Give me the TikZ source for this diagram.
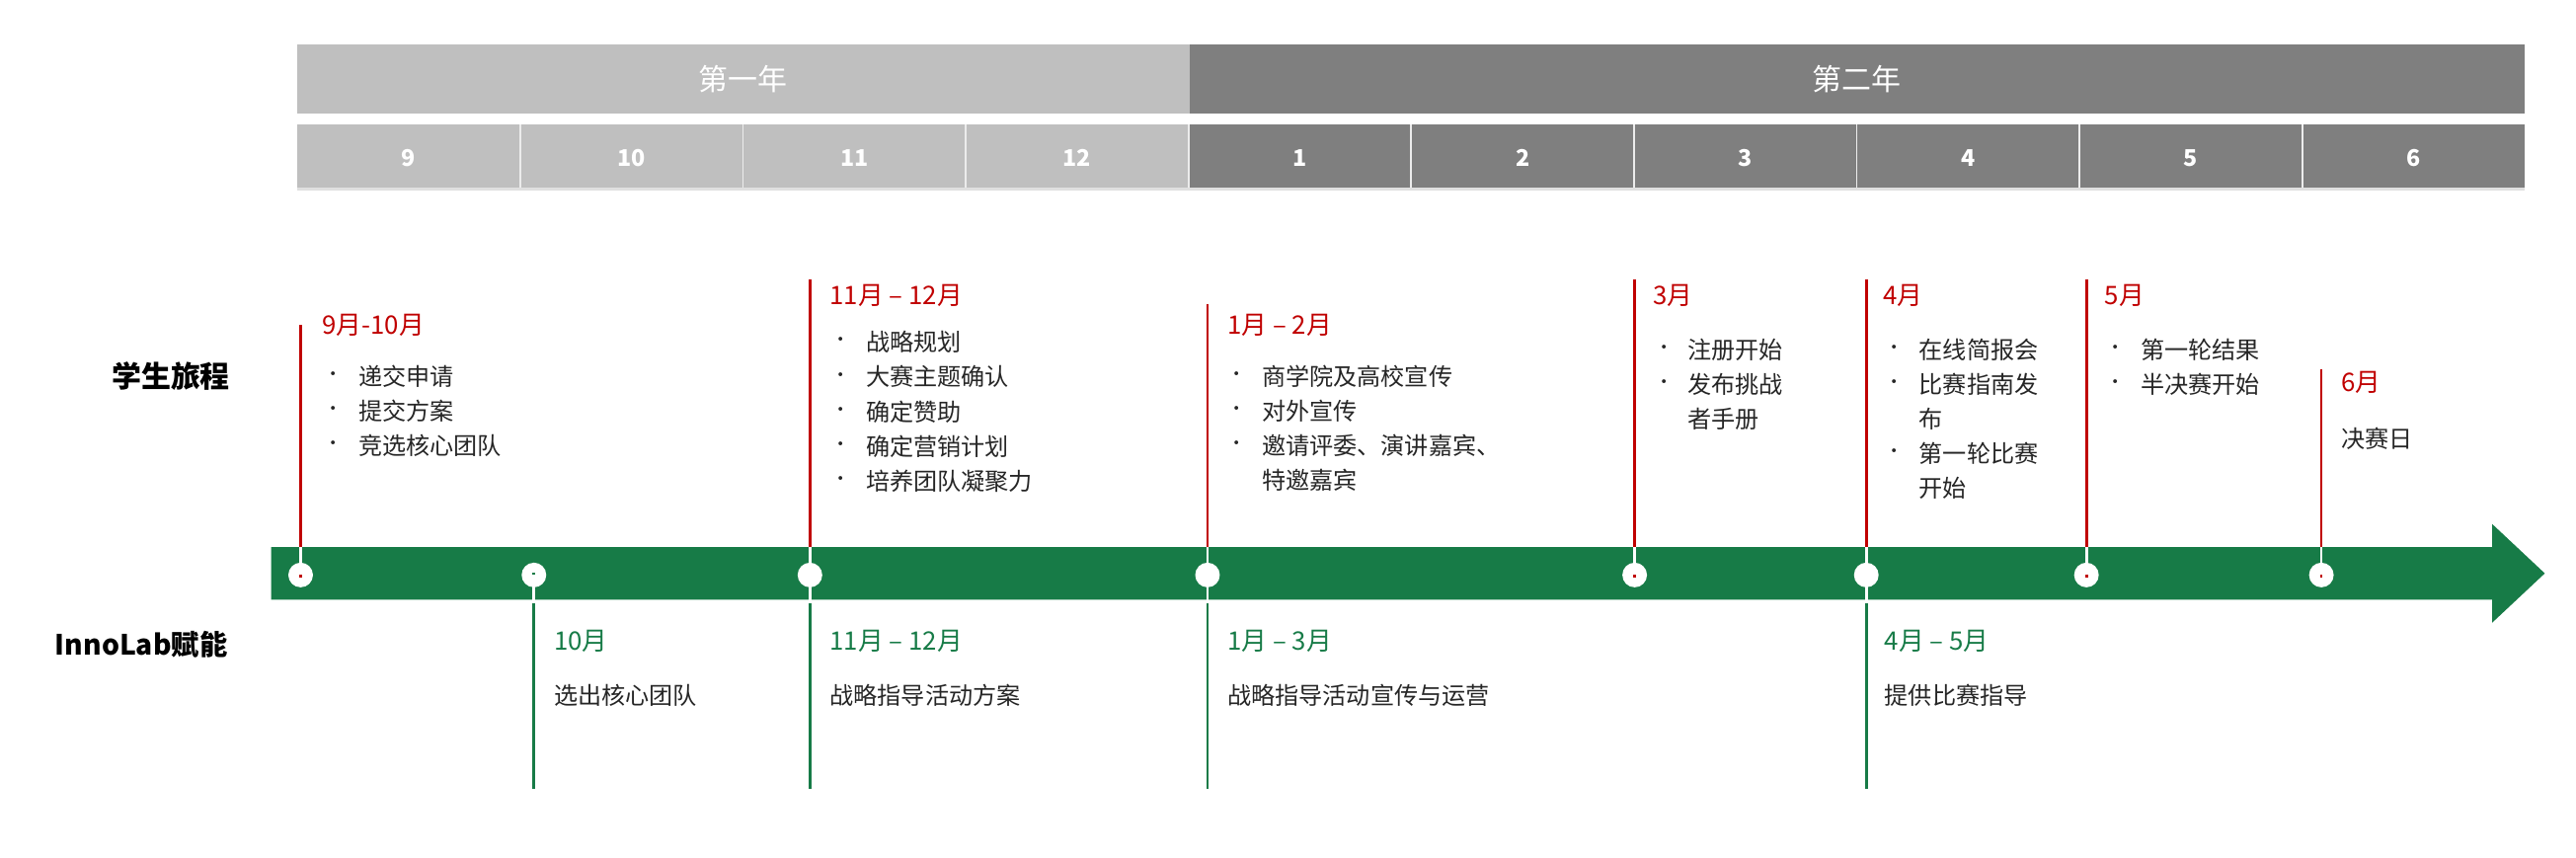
\documentclass[tikz,border=0pt]{standalone}
\usepackage{fontspec}
\setmainfont{Noto Sans CJK SC}
\definecolor{lg}{HTML}{BFBFBF}
\definecolor{dg}{HTML}{7F7F7F}
\definecolor{gr}{HTML}{177B47}
\definecolor{rd}{HTML}{C00000}
\begin{document}
\begin{tikzpicture}[x=1pt,y=-1pt,
  txt/.style={anchor=west,inner sep=0pt,font=\fontsize{14.5}{18}\selectfont,text=black!85},
  hdr/.style={anchor=west,inner sep=0pt,font=\fontsize{15.5}{18}\selectfont},
  bul/.style={anchor=center,inner sep=0pt,font=\fontsize{11}{12}\selectfont,text=black!85},
  rl/.style={draw=rd,line width=1.6pt},
  gl/.style={draw=gr,line width=1.6pt},
  dot/.style={circle,fill=white,draw=none,minimum size=15pt,inner sep=0pt}]
\useasboundingbox (0,0) rectangle (1568,521.7);
% year bars
\fill[lg] (181,27) rectangle (724,69);
\fill[dg] (724,27) rectangle (1537,69);
\node[text=white,font=\fontsize{18}{20}\selectfont] (y1) at (452,48) {第一年};
\node[text=white,font=\fontsize{18}{20}\selectfont] (y2) at (1130,48) {第二年};
% months
\fill[black!12] (181,114) rectangle (1537,116);
\foreach \m [count=\i from 0] in {9,10,11,12,1,2,3,4,5,6}{
  \pgfmathsetmacro\xa{181+135.6*\i}
  \ifnum\i<4 \def\cc{lg}\else\def\cc{dg}\fi
  \fill[\cc] (\xa,76) rectangle ++(135.6,38);
  \node[text=white,font=\bfseries\fontsize{14}{16}\selectfont] (m\i) at (\xa+67.8,96) {\m};
}
\foreach \i in {1,...,9}{\draw[white!85!gray,line width=1pt] (181+135.6*\i,76) -- ++(0,38);}
% arrow
\fill[gr] (165,333) -- (1517,333) -- (1517,319) -- (1549,349) -- (1517,379) -- (1517,365) -- (165,365) -- cycle;
% side labels
\node[font=\bfseries\fontsize{18}{20}\selectfont] (l1) at (104,229) {学生旅程};
\node[font=\bfseries\fontsize{17}{20}\selectfont] (l2) at (86,392) {InnoLab赋能};
% dots
\foreach \x/\n in {183/a,325/b,493/c,735/d,995/e,1136/f,1270/g,1413/h}{
  \node[dot] (d\n) at (\x,350) {};
}
% red lines
\coordinate (ra) at (183,198); \coordinate (rc) at (493,170); \coordinate (rd) at (735,185);
\coordinate (re) at (995,170); \coordinate (rf) at (1136,170); \coordinate (rg) at (1270,170); \coordinate (rh) at (1413,225);
\foreach \n in {a,c,d,e,f,g,h}{\draw[rl] (r\n) -- ([yshift=-9pt]d\n.north);}
% green lines
\coordinate (gb) at (325,480); \coordinate (gc) at (493,480); \coordinate (gd) at (735,480); \coordinate (gf) at (1136,480);
\foreach \n in {b,c,d,f}{\draw[gl] ([yshift=9pt]d\n.south) -- (g\n);}
\foreach \n in {a,c,d,e,f,g,h}{\draw[white,line width=1.6pt] (d\n.center) -- ++(0,-17);}
\foreach \n in {b,c,d,f}{\draw[white,line width=1.6pt] (d\n.center) -- ++(0,17);}
% student journey texts
\node[hdr,text=rd] (h1) at (196,198) {9月-10月};
\foreach \t [count=\k] in {递交申请,提交方案,竞选核心团队}{
  \node[bul] (b1\k) at (203,208+21*\k) {•}; \node[txt] (t1\k) at (218,208+21*\k) {\t};}
\node[hdr,text=rd] (h2) at (505,180) {11月 – 12月};
\foreach \t [count=\k] in {战略规划,大赛主题确认,确定赞助,确定营销计划,培养团队凝聚力}{
  \node[bul] (b2\k) at (512,187+21.2*\k) {•}; \node[txt] (t2\k) at (527,187+21.2*\k) {\t};}
\node[hdr,text=rd] (h3) at (747,198) {1月 – 2月};
\foreach \t [count=\k] in {商学院及高校宣传,对外宣传,邀请评委、演讲嘉宾、}{
  \node[bul] (b3\k) at (753,208+21*\k) {•}; \node[txt] (t3\k) at (768,208+21*\k) {\t};}
\node[txt] (t34) at (768,292) {特邀嘉宾};
\node[hdr,text=rd] (h4) at (1006,180) {3月};
\node[bul] (b41) at (1013,213) {•}; \node[txt] (t41) at (1027,213) {注册开始};
\node[bul] (b42) at (1013,234) {•}; \node[txt] (t42) at (1027,234) {发布挑战};
\node[txt] (t43) at (1027,255) {者手册};
\node[hdr,text=rd] (h5) at (1146,180) {4月};
\node[bul] (b51) at (1153,213) {•}; \node[txt] (t51) at (1168,213) {在线简报会};
\node[bul] (b52) at (1153,234) {•}; \node[txt] (t52) at (1168,234) {比赛指南发};
\node[txt] (t53) at (1168,255) {布};
\node[bul] (b54) at (1153,276) {•}; \node[txt] (t54) at (1168,276) {第一轮比赛};
\node[txt] (t55) at (1168,297) {开始};
\node[hdr,text=rd] (h6) at (1281,180) {5月};
\node[bul] (b61) at (1288,213) {•}; \node[txt] (t61) at (1303,213) {第一轮结果};
\node[bul] (b62) at (1288,234) {•}; \node[txt] (t62) at (1303,234) {半决赛开始};
\node[hdr,text=rd] (h7) at (1425,233) {6月};
\node[txt] (t71) at (1425,267) {决赛日};
% InnoLab texts
\node[hdr,text=gr] (g1) at (337,390) {10月};
\node[txt] (s1) at (337,423) {选出核心团队};
\node[hdr,text=gr] (g2) at (505,390) {11月 – 12月};
\node[txt] (s2) at (505,423) {战略指导活动方案};
\node[hdr,text=gr] (g3) at (747,390) {1月 – 3月};
\node[txt] (s3) at (747,423) {战略指导活动宣传与运营};
\node[hdr,text=gr] (g4) at (1147,390) {4月 – 5月};
\node[txt] (s4) at (1147,423) {提供比赛指导};
\end{tikzpicture}
\end{document}
